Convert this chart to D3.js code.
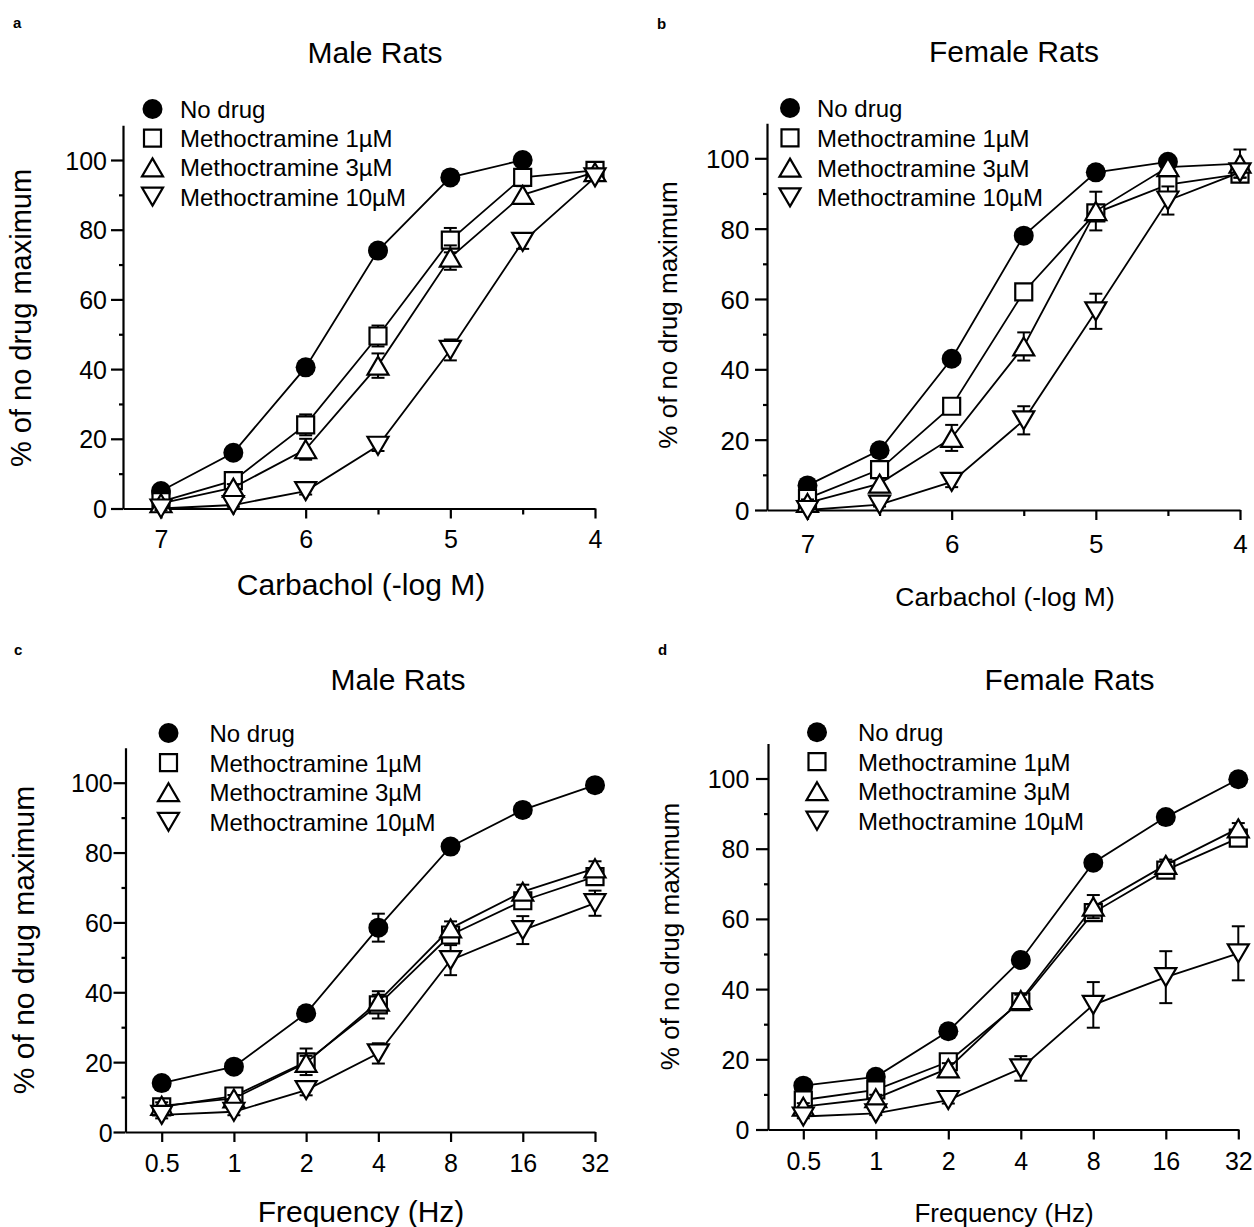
<!DOCTYPE html>
<html><head><meta charset="utf-8">
<script src="https://cdn.jsdelivr.net/npm/d3@7"></script>
<style>
body{margin:0;background:#fff}
svg{display:block}
text{font-family:"Liberation Sans",Arial,Helvetica,sans-serif;fill:#000}
</style>
</head><body>
<svg id="chart" width="1254" height="1227"></svg>
<script>
// ---------- data ----------
const seriesLabels = ["No drug", "Methoctramine 1µM", "Methoctramine 3µM", "Methoctramine 10µM"];
const seriesShapes = ["circle", "square", "triangleUp", "triangleDown"];
const carbacholDoses = [7, 6.5, 6, 5.5, 5, 4.5, 4];
const carbacholMajorTicks = [7, 6, 5, 4];
const carbacholMinorTicks = [6.5, 5.5, 4.5];
const carbacholTickLabels = ["7", "6", "5", "4"];
const frequencies = [0.5, 1, 2, 4, 8, 16, 32];
const frequencyTickLabels = ["0.5", "1", "2", "4", "8", "16", "32"];
const yMajorTicks = [0, 20, 40, 60, 80, 100];
const yMinorTicks = [10, 30, 50, 70, 90];
const yTickLabels = ["0", "20", "40", "60", "80", "100"];

// panel a: Male rats, carbachol
const aNoDrug    = [5, 16, 40.5, 74, 95, 100];
const aNoDrugSem = [0.5, 0.5, 1, 1, 1, 1];
const aM1        = [2, 8, 24, 49.5, 77, 95, 97];
const aM1Sem     = [1, 1.5, 3, 3, 3.5, 1.5, 1];
const aM3        = [1.5, 6, 17, 41, 72, 90, 96.5];
const aM3Sem     = [1, 1, 3, 3.5, 3.5, 2.5, 1];
const aM10       = [0, 1, 5, 18, 45.5, 76.5, 95];
const aM10Sem    = [0.5, 0.5, 1, 1.5, 3, 2, 1];

// panel b: Female rats, carbachol
const bNoDrug    = [7, 17, 43, 78, 96, 99];
const bNoDrugSem = [0.5, 1, 1, 1, 1, 1];
const bM1        = [3.3, 11.5, 29.5, 62, 84.5, 92.5, 95.5];
const bM1Sem     = [1, 1.5, 2, 2, 2, 2, 1.5];
const bM3        = [2, 7.5, 20.5, 46.5, 85, 97.5, 98.5];
const bM3Sem     = [1, 1.5, 3.7, 4, 5.5, 2, 4];
const bM10       = [0, 1.5, 8, 25.5, 56.5, 88, 96];
const bM10Sem    = [0.5, 0.5, 1.5, 4, 5, 4, 1.5];

// panel c: Male rats, frequency
const cNoDrug    = [14, 18.7, 34, 58.5, 81.7, 92.2, 99.3];
const cNoDrugSem = [1, 1, 1.5, 4, 1.5, 2, 1];
const cM1        = [7.2, 10.3, 20.1, 36.4, 56.4, 66.2, 73.1];
const cM1Sem     = [1, 1, 3.8, 3.9, 2, 2, 2];
const cM3        = [7.5, 9.6, 19.8, 37.3, 58.3, 68.8, 75.5];
const cM3Sem     = [1, 1, 2, 2, 2, 2, 2];
const cM10       = [4.9, 5.8, 12, 22.5, 49.2, 57.8, 65.5];
const cM10Sem    = [1, 1, 1.5, 2.9, 4.3, 4, 3.6];

// panel d: Female rats, frequency
const dNoDrug    = [12.5, 15, 28, 48.3, 76, 89, 99.8];
const dNoDrugSem = [1, 1, 1, 1, 1, 1, 1];
const dM1        = [8.4, 11.3, 19.3, 36.4, 61.8, 73.9, 83];
const dM1Sem     = [1, 1, 1.5, 1.5, 2, 1.5, 1.5];
const dM3        = [6.5, 8.9, 17.4, 36.9, 63.5, 75.4, 85.8];
const dM3Sem     = [1, 1, 1.5, 1.5, 3.3, 1.5, 1.5];
const dM10       = [3.7, 4.6, 8.4, 17.4, 35.5, 43.4, 50.2];
const dM10Sem    = [0.5, 0.5, 1, 3.5, 6.5, 7.4, 7.7];

// ---------- layout ----------
const panels = [
  { letter: "a", title: "Male Rats", type: "carb", xLabel: "Carbachol (-log M)",
    values: [aNoDrug, aM1, aM3, aM10], sems: [aNoDrugSem, aM1Sem, aM3Sem, aM10Sem],
    ox: 123, x1: 161, x2: 595, y0: 508.5, y100: 160,
    titlePos: [375, 63, 30], letterPos: [13, 28],
    legend: { mx: 152.5, tx: 180, by: 118, dy: 29.2, fs: 24 },
    yLab: [31, 318, 29], xLab: [361, 595, 30], xTickBase: 548, yTickEnd: 107, tickFs: 25 },
  { letter: "b", title: "Female Rats", type: "carb", xLabel: "Carbachol (-log M)",
    values: [bNoDrug, bM1, bM3, bM10], sems: [bNoDrugSem, bM1Sem, bM3Sem, bM10Sem],
    ox: 767, x1: 807.5, x2: 1240, y0: 510, y100: 158.3,
    titlePos: [1014, 62.3, 30], letterPos: [657, 29],
    legend: { mx: 790, tx: 817, by: 117, dy: 29.8, fs: 24 },
    yLab: [677, 315, 26], xLab: [1005, 606, 26.5], xTickBase: 552.5, yTickEnd: 749.5, tickFs: 26 },
  { letter: "c", title: "Male Rats", type: "freq", xLabel: "Frequency (Hz)",
    values: [cNoDrug, cM1, cM3, cM10], sems: [cNoDrugSem, cM1Sem, cM3Sem, cM10Sem],
    ox: 125.5, x1: 161.7, x2: 595, y0: 1132, y100: 782.7,
    titlePos: [398, 689.7, 30], letterPos: [14, 655],
    legend: { mx: 168.5, tx: 209.5, by: 742, dy: 29.6, fs: 24 },
    yLab: [34, 940, 30], xLab: [361, 1222, 30], xTickBase: 1172, yTickEnd: 112.7, tickFs: 25 },
  { letter: "d", title: "Female Rats", type: "freq", xLabel: "Frequency (Hz)",
    values: [dNoDrug, dM1, dM3, dM10], sems: [dNoDrugSem, dM1Sem, dM3Sem, dM10Sem],
    ox: 768, x1: 803.3, x2: 1238.3, y0: 1129.5, y100: 778.5,
    titlePos: [1069.6, 689.7, 30], letterPos: [658, 655],
    legend: { mx: 817, tx: 858, by: 741.2, dy: 29.5, fs: 24 },
    yLab: [679, 936.5, 26], xLab: [1004, 1222, 26], xTickBase: 1170, yTickEnd: 749.4, tickFs: 25 }
];

const svg = d3.select("#chart");
const AXW = 2.2, LINEW = 1.8, MSW = 2.2;

function markerPath(shape) {
  if (shape === "square") { const s = 8.5; return `M${-s},${-s}H${s}V${s}H${-s}Z`; }
  if (shape === "triangleUp") { const w = 10.5, h = 9; return `M0,${-h}L${w},${h}L${-w},${h}Z`; }
  if (shape === "triangleDown") { const w = 10.5, h = 9; return `M0,${h}L${w},${-h}L${-w},${-h}Z`; }
  return null;
}
function drawMarker(g, shape, x, y) {
  if (shape === "circle") {
    g.append("circle").attr("cx", x).attr("cy", y).attr("r", 10).attr("fill", "#000");
  } else {
    g.append("path").attr("d", markerPath(shape)).attr("transform", `translate(${x},${y})`)
      .attr("fill", "#fff").attr("stroke", "#000").attr("stroke-width", MSW).attr("stroke-linejoin", "miter");
  }
}

panels.forEach(p => {
  const g = svg.append("g");
  // scales
  const y = d3.scaleLinear().domain([0, 100]).range([p.y0, p.y100]);
  const yFull = d3.scaleLinear().domain([0, 110]).range([p.y0, y(110)]);
  let xBase, x, xs, majorTicks, minorTicks, tickLabels;
  if (p.type === "carb") {
    xBase = d3.scaleLinear().domain([7, 4]).range([p.x1, p.x2]);
    x = d3.scaleLinear().domain([xBase.invert(p.ox), 4]).range([p.ox, p.x2]);
    xs = carbacholDoses; majorTicks = carbacholMajorTicks; minorTicks = carbacholMinorTicks;
    tickLabels = carbacholTickLabels;
  } else {
    xBase = d3.scaleLog().base(2).domain([0.5, 32]).range([p.x1, p.x2]);
    x = d3.scaleLog().base(2).domain([xBase.invert(p.ox), 32]).range([p.ox, p.x2]);
    xs = frequencies; majorTicks = frequencies; minorTicks = [];
    tickLabels = frequencyTickLabels;
  }

  // x axis
  const xAxisG = g.append("g").attr("transform", `translate(0,${p.y0})`)
    .call(d3.axisBottom(x).tickValues(majorTicks).tickSize(10).tickSizeOuter(0)
      .tickFormat((d, i) => tickLabels[i]));
  if (minorTicks.length) {
    g.append("g").attr("transform", `translate(0,${p.y0})`)
      .call(d3.axisBottom(x).tickValues(minorTicks).tickSize(6).tickSizeOuter(0).tickFormat(""))
      .select(".domain").remove();
  }
  // y axis
  const yAxisG = g.append("g").attr("transform", `translate(${p.ox},0)`)
    .call(d3.axisLeft(yFull).tickValues(yMajorTicks).tickSize(12).tickSizeOuter(0)
      .tickFormat((d, i) => yTickLabels[i]));
  g.append("g").attr("transform", `translate(${p.ox},0)`)
    .call(d3.axisLeft(yFull).tickValues(yMinorTicks).tickSize(4).tickSizeOuter(0).tickFormat(""))
    .select(".domain").remove();

  g.selectAll(".domain, .tick line").attr("stroke", "#000").attr("stroke-width", AXW);
  g.selectAll(".tick text").attr("fill", "#000").style("font-family", '"Liberation Sans",Arial,sans-serif');
  xAxisG.selectAll(".tick text").attr("font-size", p.tickFs)
    .attr("y", p.xTickBase - p.y0).attr("dy", 0);
  yAxisG.selectAll(".tick text").attr("font-size", p.tickFs)
    .attr("x", p.yTickEnd - p.ox).attr("dy", "0.36em");

  // series
  p.values.forEach((vals, si) => {
    const sems = p.sems[si];
    const pts = vals.map((v, i) => ({ x: xs[i], v, e: sems[i] }));
    const sg = g.append("g");
    sg.append("path").datum(pts)
      .attr("d", d3.line().x(d => x(d.x)).y(d => y(d.v)))
      .attr("fill", "none").attr("stroke", "#000").attr("stroke-width", LINEW);
    pts.forEach(d => {
      const cx = x(d.x), top = y(d.v + d.e), bot = y(d.v - d.e);
      sg.append("line").attr("x1", cx).attr("x2", cx).attr("y1", top).attr("y2", bot)
        .attr("stroke", "#000").attr("stroke-width", 2);
      [top, bot].forEach(yy => sg.append("line").attr("x1", cx - 6.5).attr("x2", cx + 6.5)
        .attr("y1", yy).attr("y2", yy).attr("stroke", "#000").attr("stroke-width", 2));
    });
    pts.forEach(d => drawMarker(sg, seriesShapes[si], x(d.x), y(d.v)));
  });

  // legend
  seriesLabels.forEach((lab, i) => {
    const by = p.legend.by + i * p.legend.dy;
    drawMarker(g, seriesShapes[i], p.legend.mx, by - 9);
    g.append("text").attr("x", p.legend.tx).attr("y", by).attr("font-size", p.legend.fs).text(lab);
  });

  // title, letter, axis labels
  g.append("text").attr("x", p.titlePos[0]).attr("y", p.titlePos[1]).attr("font-size", p.titlePos[2])
    .attr("text-anchor", "middle").text(p.title);
  g.append("text").attr("x", p.letterPos[0]).attr("y", p.letterPos[1]).attr("font-size", 15)
    .attr("font-weight", "bold").text(p.letter);
  g.append("text").attr("transform", `translate(${p.yLab[0]},${p.yLab[1]}) rotate(-90)`)
    .attr("font-size", p.yLab[2]).attr("text-anchor", "middle").text("% of no drug maximum");
  g.append("text").attr("x", p.xLab[0]).attr("y", p.xLab[1]).attr("font-size", p.xLab[2])
    .attr("text-anchor", "middle").text(p.xLabel);
});
</script>
</body></html>
